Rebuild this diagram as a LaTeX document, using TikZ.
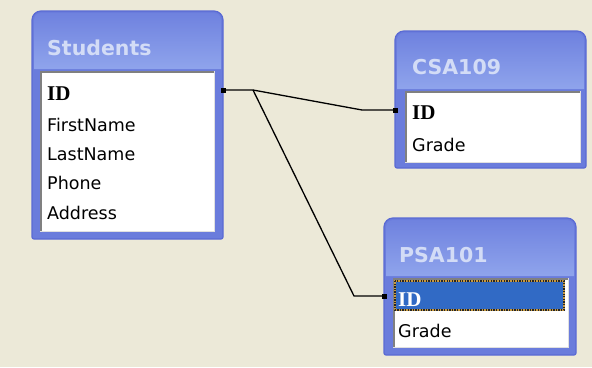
\documentclass[tikz,border=0pt]{standalone}
\usepackage{fontspec}
\setmainfont{DejaVu Sans}
\newfontfamily\idfamily{Liberation Serif}
\definecolor{bgcol}{HTML}{ECE9D8}
\definecolor{boxdark}{HTML}{5A6AD4}
\definecolor{boxmid}{HTML}{6A7CDC}
\definecolor{titletop}{HTML}{6F82DF}
\definecolor{titlelight}{HTML}{8FA4EC}
\definecolor{titletext}{HTML}{D3DCF6}
\definecolor{selblue}{HTML}{316AC5}
\definecolor{focusorange}{HTML}{C89A40}
\begin{document}
\begin{tikzpicture}[x=1pt,y=-1pt,
  outerbox/.style={inner sep=0pt, outer sep=0pt, anchor=north west},
  boxshape/.style={fill=boxmid, draw=boxdark, line width=1.2pt},
  band/.style={top color=titletop, bottom color=titlelight},
  titletxt/.style={font=\fontsize{20.5}{22}\selectfont\bfseries, text=titletext, anchor=base west, inner sep=0pt},
  listbox/.style={fill=white, draw=white!88!black, line width=1pt, inner sep=0pt, outer sep=0pt, anchor=north west},
  inset/.style={draw=black!50, line width=1.2pt},
  rowtxt/.style={font=\fontsize{17.5}{19}\selectfont, anchor=base west, inner sep=0pt},
  idtxt/.style={font=\idfamily\fontsize{21}{23}\selectfont\bfseries, anchor=base west, inner sep=0pt},
  link/.style={draw=black, line width=1.3pt},
  port/.style={fill=black, minimum size=5pt, inner sep=0pt}
]
\fill[bgcol] (0,0) rectangle (592,367);
\useasboundingbox (0,0) rectangle (592,367);

% ---------- Students ----------
\node[outerbox, minimum width=191pt, minimum height=228pt] (stu) at (32,11) {};
\path[boxshape] (stu.south west) [rounded corners=9pt] -- (stu.north west) -- (stu.north east) [rounded corners=2pt] -- (stu.south east) -- cycle;
\shade[band] (34,69) [rounded corners=7pt] -- (34,13) -- (221,13) [sharp corners] -- (221,69) -- cycle;
\node[titletxt] (stu-title) at (47,55) {Students};
\node[listbox, minimum width=174pt, minimum height=160pt] (stu-list) at (40,71) {};
\draw[inset] ([xshift=1pt]stu-list.south west) -- ([xshift=1pt,yshift=-1pt]stu-list.north west) -- ([yshift=-1pt]stu-list.north east);
\node[idtxt] (stu-id) at (47,100) {ID};
\node[rowtxt] (stu-first) at (47,131) {FirstName};
\node[rowtxt] (stu-last) at (47,160) {LastName};
\node[rowtxt] (stu-phone) at (47,189) {Phone};
\node[rowtxt] (stu-addr) at (47,219) {Address};

% ---------- CSA109 ----------
\node[outerbox, minimum width=191pt, minimum height=137pt] (csa) at (395,31) {};
\path[boxshape] (csa.south west) [rounded corners=9pt] -- (csa.north west) -- (csa.north east) [rounded corners=2pt] -- (csa.south east) -- cycle;
\shade[band] (397,89) [rounded corners=7pt] -- (397,33) -- (584,33) [sharp corners] -- (584,89) -- cycle;
\node[titletxt] (csa-title) at (412,74) {CSA109};
\node[listbox, minimum width=175pt, minimum height=71pt] (csa-list) at (405,91) {};
\draw[inset] ([xshift=1pt]csa-list.south west) -- ([xshift=1pt,yshift=-1pt]csa-list.north west) -- ([yshift=-1pt]csa-list.north east);
\node[idtxt] (csa-id) at (412,119) {ID};
\node[rowtxt] (csa-grade) at (412,151) {Grade};

% ---------- PSA101 ----------
\node[outerbox, minimum width=192pt, minimum height=137pt] (psa) at (384,218) {};
\path[boxshape] (psa.south west) [rounded corners=9pt] -- (psa.north west) -- (psa.north east) [rounded corners=2pt] -- (psa.south east) -- cycle;
\shade[band] (386,276) [rounded corners=7pt] -- (386,220) -- (574,220) [sharp corners] -- (574,276) -- cycle;
\node[titletxt] (psa-title) at (399,262) {PSA101};
\node[listbox, minimum width=175pt, minimum height=69pt] (psa-list) at (393,278) {};
\draw[inset] ([xshift=1pt]psa-list.south west) -- ([xshift=1pt,yshift=-1pt]psa-list.north west) -- ([yshift=-1pt]psa-list.north east);
\node[fill=selblue, inner sep=0pt, outer sep=0pt, anchor=north west, minimum width=169pt, minimum height=29pt] (psa-sel) at (395,281) {};
\draw[focusorange, line width=1.3pt] (psa-sel.north west) rectangle (psa-sel.south east);
\draw[black!85, line width=1.3pt, dash pattern=on 1.3pt off 1.3pt] (psa-sel.north west) rectangle (psa-sel.south east);
\node[idtxt, text=white] (psa-id) at (398,306) {ID};
\node[rowtxt] (psa-grade) at (398,337) {Grade};

% ---------- connectors ----------
\coordinate (stu-port) at (stu.east |- 0,90);
\coordinate (joint) at (253,90);
\coordinate (bend1) at (362,110);
\coordinate (csa-port) at (csa.west |- 0,110);
\coordinate (bend2) at (354,296);
\coordinate (psa-port) at (psa.west |- 0,296);
\draw[link] (stu-port) -- (joint) -- (bend1) -- (csa-port);
\draw[link] (joint) -- (bend2) -- (psa-port);
\node[port] (stu-dot) at (stu-port) {};
\node[port] (csa-dot) at (csa-port) {};
\node[port] (psa-dot) at (psa-port) {};
\end{tikzpicture}
\end{document}
